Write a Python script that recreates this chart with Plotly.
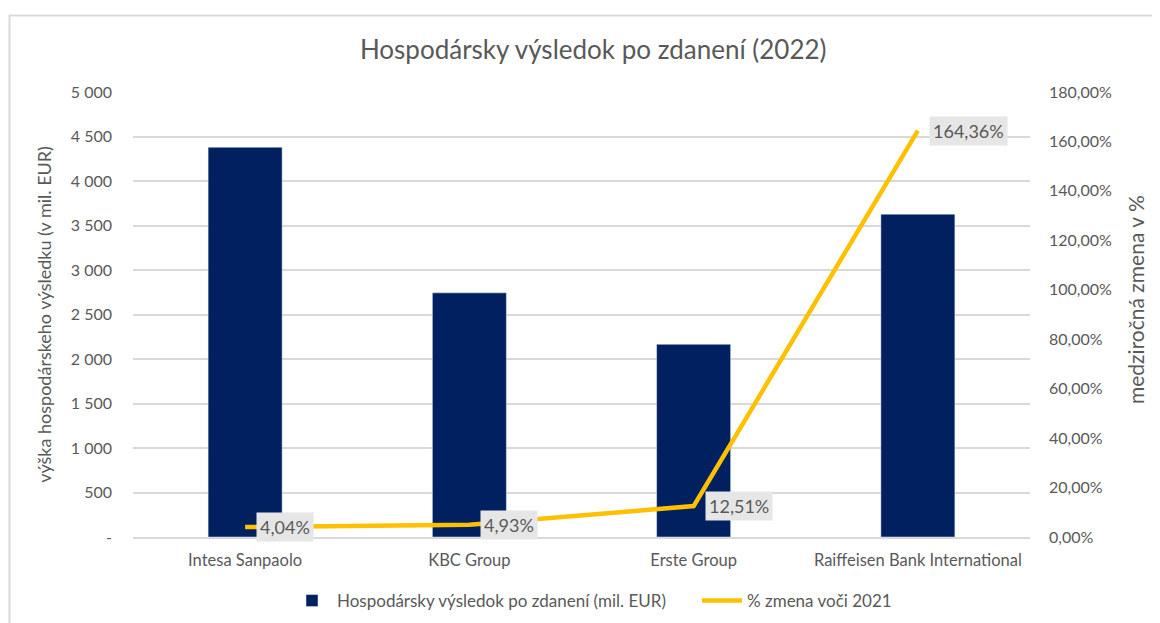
import plotly.graph_objects as go

categories = ["Intesa Sanpaolo", "KBC Group", "Erste Group", "Raiffeisen Bank International"]
profit = [4379, 2743, 2165, 3627]
change_pct = [4.04, 4.93, 12.51, 164.36]
change_labels = ["4,04%", "4,93%", "12,51%", "164,36%"]

left_ticks = [0, 500, 1000, 1500, 2000, 2500, 3000, 3500, 4000, 4500, 5000]
left_ticktext = ["-", "500", "1 000", "1 500", "2 000", "2 500", "3 000", "3 500", "4 000", "4 500", "5 000"]
right_ticks = [0, 20, 40, 60, 80, 100, 120, 140, 160, 180]
right_ticktext = ["0,00%", "20,00%", "40,00%", "60,00%", "80,00%", "100,00%", "120,00%", "140,00%", "160,00%", "180,00%"]

FONT = "Lato"
GREY = "#595959"

fig = go.Figure()
fig.add_trace(go.Bar(
    x=categories, y=profit, name="Hospodársky výsledok po zdanení (mil. EUR)",
    marker_color="#002060", width=0.33, yaxis="y",
))
fig.add_trace(go.Scatter(
    x=categories, y=change_pct, name="% zmena voči 2021", mode="lines",
    line=dict(color="#FFC000", width=4.5), yaxis="y2",
))

for c, v, t in zip(categories, change_pct, change_labels):
    fig.add_annotation(
        x=c, y=v, yref="y2", text=t, showarrow=False, xanchor="left", yanchor="middle",
        xshift=11, bgcolor="#E7E6E6", borderpad=3,
        font=dict(family=FONT, size=18, color=GREY),
    )

# page has an 8px body margin: figure coordinates = page coordinates - 8
OFF = 8
W, H = 1160 - OFF, 623 - OFF
L, R, T, B = 133 - OFF, 130, 92 - OFF, 86
pw, ph = W - L - R, H - T - B

def px_x(x):
    return (x - OFF - L) / pw

def px_y(y):
    return (H - B - (y - OFF)) / ph

frame_color = "#D9D9D9"
fig.add_shape(type="line", xref="paper", yref="paper",
              x0=px_x(9), x1=px_x(1170), y0=px_y(15.5), y1=px_y(15.5),
              line=dict(color=frame_color, width=2))
fig.add_shape(type="line", xref="paper", yref="paper",
              x0=px_x(9.5), x1=px_x(9.5), y0=px_y(15), y1=px_y(640),
              line=dict(color=frame_color, width=2))

# right axis title
fig.add_annotation(
    xref="paper", yref="paper", x=px_x(1135), y=px_y(300), text="medziročná zmena v %",
    textangle=-90, showarrow=False, xanchor="center", yanchor="middle",
    font=dict(family=FONT, size=21, color=GREY),
)

fig.update_layout(
    width=W, height=H,
    margin=dict(l=L, r=R, t=T, b=B),
    paper_bgcolor="white", plot_bgcolor="white",
    font=dict(family=FONT, color=GREY, size=16),
    title=dict(text="Hospodársky výsledok po zdanení (2022)", x=0.508, xanchor="center",
               y=1 - (50 - OFF) / H, yanchor="middle", font=dict(family=FONT, size=26, color=GREY)),
    showlegend=True,
    legend=dict(orientation="h", xref="container", yref="container",
                x=(287 - OFF) / W, xanchor="left", y=1 - (601 - OFF) / H, yanchor="middle",
                font=dict(family=FONT, size=17, color=GREY), itemwidth=40, traceorder="normal",
                entrywidth=355, bgcolor="rgba(0,0,0,0)"),
    xaxis=dict(showgrid=False, showline=True, linecolor="#D9D9D9", linewidth=1.5,
               tickfont=dict(family=FONT, size=16.5, color=GREY), ticks="", ticklabelstandoff=7),
    yaxis=dict(range=[0, 5000], tickvals=left_ticks, ticktext=left_ticktext,
               showgrid=True, gridcolor="#D9D9D9", gridwidth=1.5, zeroline=False,
               tickfont=dict(family=FONT, size=16, color=GREY), ticks="", ticklabelstandoff=20,
               title=dict(text="výška hospodárskeho výsledku (v mil. EUR)", standoff=14,
                          font=dict(family=FONT, size=18, color=GREY))),
    yaxis2=dict(range=[0, 180], tickvals=right_ticks, ticktext=right_ticktext, overlaying="y",
                side="right", showgrid=False, zeroline=False,
                tickfont=dict(family=FONT, size=16, color=GREY), ticks="", ticklabelstandoff=18),
    bargap=0.67,
)

fig.write_html("out.html")
